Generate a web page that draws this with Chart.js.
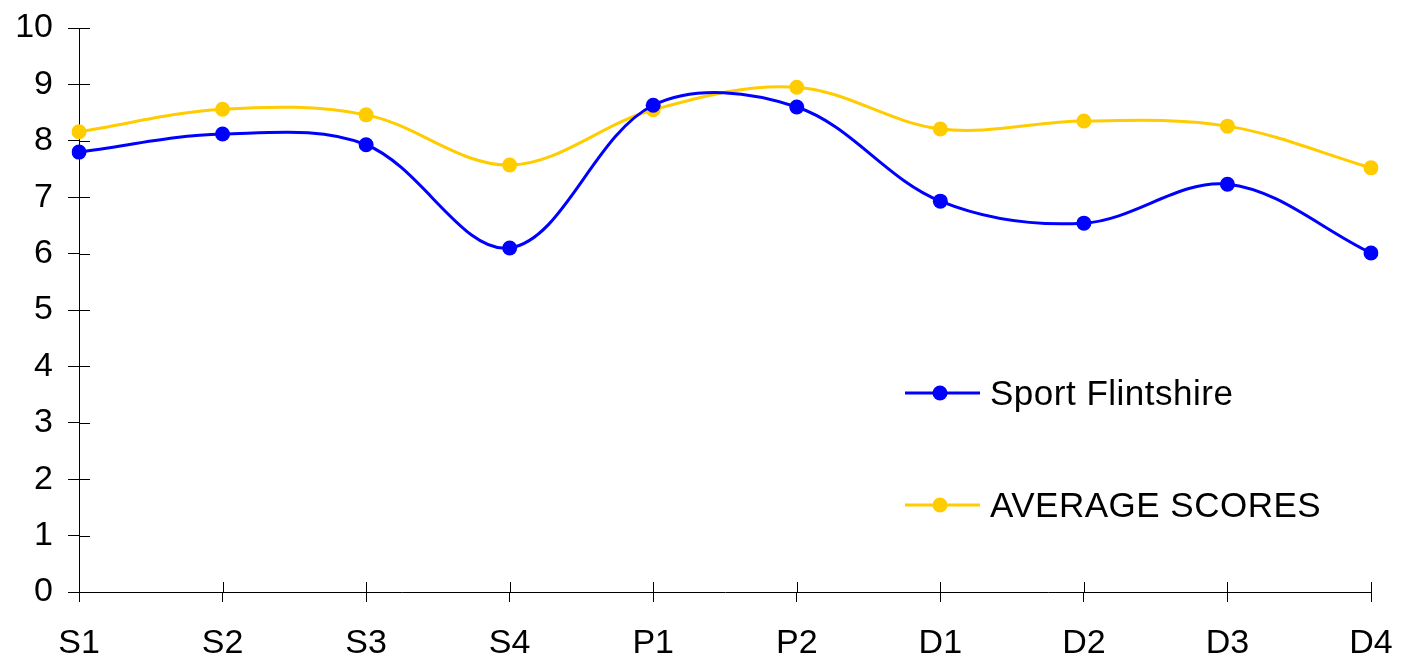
<!DOCTYPE html>
<html>
<head>
<script src="https://cdn.jsdelivr.net/npm/chart.js@4"></script>
<style>
  body { margin: 0; background: #fff; }
  #wrap { width: 1403px; height: 659px; }
</style>
</head>
<body>
<div id="wrap"><canvas id="myChart" width="1403" height="659"></canvas></div>
<script>
    const labels = ['S1', 'S2', 'S3', 'S4', 'P1', 'P2', 'D1', 'D2', 'D3', 'D4'];
    const sportFlintshire = [7.80, 8.12, 7.93, 6.10, 8.63, 8.60, 6.93, 6.54, 7.23, 6.01];
    const averageScores = [8.16, 8.56, 8.46, 7.57, 8.55, 8.95, 8.21, 8.35, 8.26, 7.52];
    const yTicks = [0, 1, 2, 3, 4, 5, 6, 7, 8, 9, 10];

    const fontFamily = '"Liberation Sans", Arial, sans-serif';

    // ticks cross the axis line, chart.js only draws the outer half
    const innerTicks = {
        id: 'innerTicks',
        afterDraw(chart) {
            const ctx = chart.ctx;
            const x = chart.scales.x, y = chart.scales.y;
            ctx.save();
            ctx.strokeStyle = '#000';
            ctx.lineWidth = 1;
            ctx.beginPath();
            y.ticks.forEach((t, i) => {
                const py = Math.round(y.getPixelForTick(i)) + 0.5;
                ctx.moveTo(x.left, py);
                ctx.lineTo(x.left + 11, py);
            });
            x.ticks.forEach((t, i) => {
                const px = Math.round(x.getPixelForTick(i)) + 0.5;
                ctx.moveTo(px, y.bottom);
                ctx.lineTo(px, y.bottom - 10);
            });
            ctx.stroke();
            ctx.restore();
        }
    };

    // legend sits inside the plot, lower right
    const insideLegend = {
        id: 'insideLegend',
        afterDraw(chart) {
            const ctx = chart.ctx;
            const rows = [393, 505];
            ctx.save();
            chart.data.datasets.forEach((ds, i) => {
                const yy = rows[i];
                ctx.strokeStyle = ds.borderColor;
                ctx.lineWidth = 3;
                ctx.beginPath();
                ctx.moveTo(905, yy);
                ctx.lineTo(980, yy);
                ctx.stroke();
                ctx.fillStyle = ds.backgroundColor;
                ctx.beginPath();
                ctx.arc(940, yy, 7.5, 0, Math.PI * 2);
                ctx.fill();
                ctx.fillStyle = '#000';
                ctx.font = '35px ' + fontFamily;
                ctx.letterSpacing = '0.5px';
                ctx.textBaseline = 'middle';
                ctx.textAlign = 'left';
                ctx.fillText(ds.label, 990, yy + 2);
            });
            ctx.restore();
        }
    };

    const config = {
        type: 'line',
        data: {
            labels: labels,
            datasets: [{
                label: 'Sport Flintshire',
                data: sportFlintshire,
                borderColor: '#0000FF',
                backgroundColor: '#0000FF',
                borderWidth: 3,
                pointRadius: 7.5,
                pointBorderWidth: 0,
                tension: 0.35
            }, {
                label: 'AVERAGE SCORES',
                data: averageScores,
                borderColor: '#FFCC00',
                backgroundColor: '#FFCC00',
                borderWidth: 3,
                pointRadius: 7.5,
                pointBorderWidth: 0,
                tension: 0.35
            }]
        },
        options: {
            responsive: false,
            animation: false,
            layout: { padding: { top: 28, right: 32, left: 0, bottom: 0 } },
            plugins: { legend: { display: false }, tooltip: { enabled: false } },
            scales: {
                x: {
                    offset: false,
                    grid: { display: true, drawOnChartArea: false, drawTicks: true, tickLength: 10, color: '#000', lineWidth: 1 },
                    border: { color: '#000', width: 1 },
                    ticks: { color: '#000', font: { size: 34, family: fontFamily }, padding: 21, maxRotation: 0, autoSkip: false },
                    afterFit(scale) {
                        scale.height = 67;
                        scale.paddingLeft = 0;
                        scale.paddingRight = 0;
                    }
                },
                y: {
                    min: 0, max: 10,
                    afterBuildTicks(scale) { scale.ticks = yTicks.map(v => ({ value: v })); },
                    grid: { display: true, drawOnChartArea: false, drawTicks: true, tickLength: 11, color: '#000', lineWidth: 1 },
                    border: { color: '#000', width: 1 },
                    ticks: { color: '#000', font: { size: 34, family: fontFamily }, padding: 15 },
                    afterFit(scale) {
                        scale.width = 79;
                        scale.paddingTop = 0;
                        scale.paddingBottom = 0;
                    }
                }
            }
        },
        plugins: [innerTicks, insideLegend]
    };

    const myChart = new Chart(document.getElementById('myChart'), config);
</script>
</body>
</html>
